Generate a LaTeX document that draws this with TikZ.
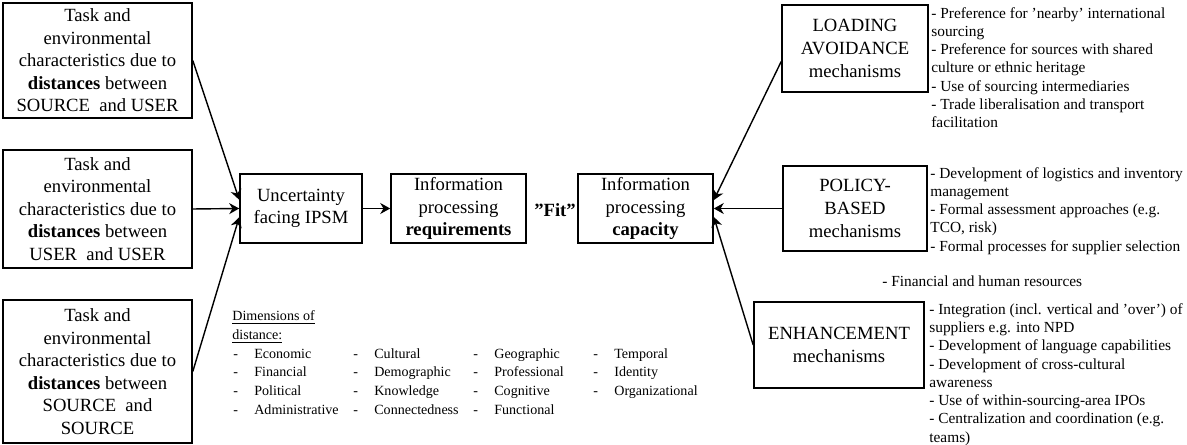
\documentclass[tikz,border=0pt]{standalone}
\usepackage{fontspec}
\setmainfont{Liberation Serif}
\usetikzlibrary{arrows.meta, positioning, calc}
\newcommand{\dimdash}{\makebox[0.42cm][l]{-}}

\begin{document}
\begin{tikzpicture}[
    distbox/.style={rectangle, draw, line width=0.9pt, align=center, minimum width=3.78cm, inner sep=2pt, font=\fontsize{10.6}{12.8}\selectfont},
    ipbox/.style={rectangle, draw, line width=0.9pt, align=center, minimum width=2.7cm, minimum height=1.38cm, inner sep=2pt, font=\fontsize{10.6}{12.6}\selectfont},
    mechbox/.style={rectangle, draw, line width=0.9pt, align=center, minimum height=1.72cm, inner sep=2pt, font=\fontsize{10.6}{13.2}\selectfont},
    measures/.style={anchor=north west, align=left, inner sep=0pt, font=\fontsize{8.75}{10.4}\selectfont},
    dimitem/.style={anchor=base west, inner sep=0pt, font=\fontsize{8}{10}\selectfont},
    arrow/.style={-{Stealth[length=2mm, width=2.2mm]}, line width=0.8pt}
]
\useasboundingbox (0,0) rectangle (23.74,8.9);

% Distance boxes
\node[distbox, minimum height=2.30cm] (su) at (1.95,7.69) {Task and\\environmental\\characteristics due to\\\textbf{distances} between\\SOURCE \ and USER};
\node[distbox, minimum height=2.36cm] (uu) at (1.95,4.72) {Task and\\environmental\\characteristics due to\\\textbf{distances} between\\USER \ and USER};
\node[distbox, minimum height=2.86cm] (ss) at (1.95,1.47) {Task and\\environmental\\characteristics due to\\\textbf{distances} between\\SOURCE \ and\\SOURCE};

% Information processing chain
\node[ipbox, minimum width=2.44cm] (unc) at (6.02,4.73) {Uncertainty\\facing IPSM};
\node[ipbox] (req) at (9.17,4.73) {Information\\processing\\\textbf{requirements}};
\node[font=\bfseries\fontsize{10.6}{12.8}\selectfont] (fit) at (11.10,4.70) {”Fit”};
\node[ipbox] (cap) at (12.91,4.73) {Information\\processing\\\textbf{capacity}};

% Mechanisms
\node[mechbox, minimum width=2.92cm, minimum height=1.74cm] (load) at (17.10,7.93) {LOADING\\AVOIDANCE\\mechanisms};
\node[mechbox, minimum width=2.88cm, minimum height=1.70cm] (pol) at (17.10,4.73) {POLICY-\\BASED\\mechanisms};
\node[mechbox, minimum width=3.40cm] (enh) at (16.78,2.00) {ENHANCEMENT\\mechanisms};

% Mechanism examples
\node[measures] (loadlist) at (18.62,8.76) {- Preference for ’nearby’ international\\sourcing\\- Preference for sources with shared\\culture or ethnic heritage\\- Use of sourcing intermediaries\\- Trade liberalisation and transport\\facilitation};
\node[measures] (pollist) at (18.60,5.56) {- Development of logistics and inventory\\management\\- Formal assessment approaches (e.g.\\TCO, risk)\\- Formal processes for supplier selection};
\node[measures, anchor=west] (res) at (17.64,3.28) {- Financial and human resources};
\node[measures] (enhlist) at (18.58,2.84) {- Integration (incl. vertical and ’over’) of\\suppliers e.g. into NPD\\- Development of language capabilities\\- Development of cross-cultural\\awareness\\- Use of within-sourcing-area IPOs\\- Centralization and coordination (e.g.\\teams)};

% Arrows
\draw[arrow] (su.east) -- (unc.172);
\draw[arrow] (uu.east) -- (unc.west);
\draw[arrow] (ss.east) -- (unc.188);
\draw[arrow] (unc) -- (req);
\draw[arrow] (load.190) -- (cap.7);
\draw[arrow] (pol) -- (cap);
\draw[arrow] (enh.west) -- (cap.-7);

% Dimensions of distance
\node[dimitem] (dimhead) at (4.64,2.48) {\underline{Dimensions of}};
\node[dimitem] (dimhead2) at (4.64,2.10) {\underline{distance:}};
\foreach \w [count=\r] in {Economic, Financial, Political, Administrative}
  \node[dimitem] (da-\r) at (4.66,2.11-0.373*\r) {\dimdash\w};
\foreach \w [count=\r] in {Cultural, Demographic, Knowledge, Connectedness}
  \node[dimitem] (db-\r) at (7.06,2.11-0.373*\r) {\dimdash\w};
\foreach \w [count=\r] in {Geographic, Professional, Cognitive, Functional}
  \node[dimitem] (dc-\r) at (9.46,2.11-0.373*\r) {\dimdash\w};
\foreach \w [count=\r] in {Temporal, Identity, Organizational}
  \node[dimitem] (dd-\r) at (11.86,2.11-0.373*\r) {\dimdash\w};

\end{tikzpicture}
\end{document}
